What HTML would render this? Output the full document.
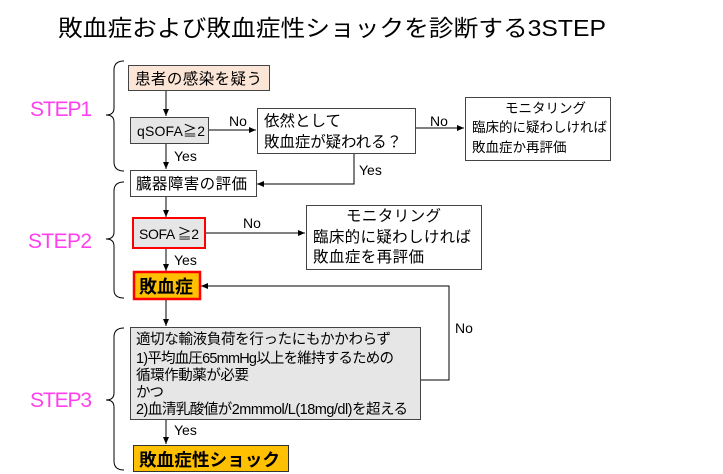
<!DOCTYPE html>
<html><head><meta charset="utf-8"><style>
html,body{margin:0;padding:0;background:#fff;}
svg{display:block;font-family:"Liberation Sans","Noto Sans CJK JP",sans-serif;}
</style></head><body>
<svg width="723" height="474" viewBox="0 0 723 474" xmlns="http://www.w3.org/2000/svg">
<defs><marker id="a" markerWidth="8" markerHeight="8" refX="7" refY="4" orient="auto" markerUnits="userSpaceOnUse"><path d="M0,1 L7,4 L0,7 z" fill="#000"/></marker></defs>
<text x="58" y="36" font-size="23" textLength="548" lengthAdjust="spacingAndGlyphs" fill="#000">敗血症および敗血症性ショックを診断する3STEP</text>
<g fill="#ff40ee" font-size="21">
<text x="30" y="116" textLength="62">STEP1</text>
<text x="28" y="248" textLength="64">STEP2</text>
<text x="30" y="407" textLength="62">STEP3</text>
</g>
<g fill="none" stroke="#000" stroke-width="1">
<path d="M124,61 Q114,61 114,70 L114,108 Q114,115 106,115 Q114,115 114,122 L114,162 Q114,171 124,171"/>
<path d="M124,182 Q114,182 114,191 L114,232 Q114,239 106,239 Q114,239 114,246 L114,290 Q114,298 124,298"/>
<path d="M124,328 Q114,328 114,337 L114,393 Q114,400 106,400 Q114,400 114,407 L114,461 Q114,470 124,470"/>
</g>
<g stroke="#444" stroke-width="1">
<rect x="128.5" y="65.5" width="141" height="25" fill="#fbe5d6"/>
<rect x="130.5" y="117.5" width="78" height="26" fill="#e7e6e6"/>
<rect x="257.5" y="108.5" width="158" height="45" fill="#fff"/>
<rect x="465.5" y="97.5" width="145" height="63" fill="#fff"/>
<rect x="130.5" y="170.5" width="126" height="26" fill="#fff"/>
<rect x="306.5" y="205.5" width="175" height="64" fill="#fff"/>
<rect x="130.5" y="327.5" width="290" height="92" fill="#e7e6e6"/>
</g>
<rect x="133" y="218" width="72" height="30" fill="#e7e6e6" stroke="#ff0000" stroke-width="2"/>
<rect x="134" y="272" width="66" height="27" fill="#ffc000" stroke="#ff0000" stroke-width="2.5"/>
<rect x="133.5" y="445.5" width="155" height="26" fill="#ffc000" stroke="#333" stroke-width="1"/>
<g stroke="#000" stroke-width="1" fill="none" marker-end="url(#a)">
<line x1="166" y1="91" x2="166" y2="116"/>
<line x1="166" y1="144" x2="166" y2="169"/>
<line x1="209" y1="130" x2="256" y2="130"/>
<polyline points="354,154 354,184 257,184"/>
<line x1="416" y1="128" x2="464" y2="128"/>
<line x1="166" y1="197" x2="166" y2="217"/>
<line x1="206" y1="233" x2="305" y2="233"/>
<line x1="166" y1="249" x2="166" y2="271"/>
<line x1="166" y1="300" x2="166" y2="326"/>
<polyline points="421,380 449,380 449,286 201,286"/>
<line x1="166" y1="420" x2="166" y2="444"/>
</g>
<g font-size="14" fill="#000">
<text x="229" y="126">No</text>
<text x="430" y="126">No</text>
<text x="243" y="228">No</text>
<text x="174" y="161">Yes</text>
<text x="359" y="175">Yes</text>
<text x="174" y="265">Yes</text>
<text x="174" y="435">Yes</text>
<text x="455" y="333">No</text>
</g>
<g font-size="15.5" fill="#000" lengthAdjust="spacingAndGlyphs">
<text x="135" y="84" textLength="127">患者の感染を疑う</text>
<text x="137" y="136" font-size="14" textLength="68">qSOFA≧2</text>
<text x="264" y="126" textLength="77">依然として</text>
<text x="264" y="147" textLength="138">敗血症が疑われる？</text>
<text x="346" y="221" textLength="95">モニタリング</text>
<text x="313" y="242" textLength="158">臨床的に疑わしければ</text>
<text x="313" y="262" textLength="111">敗血症を再評価</text>
<text x="136" y="189" textLength="111">臓器障害の評価</text>
<text x="139" y="239" font-size="14" textLength="60">SOFA ≧2</text>
</g>
<g font-size="13.5" fill="#000">
<text x="505" y="113">モニタリング</text>
<text x="472" y="132">臨床的に疑わしければ</text>
<text x="472" y="152">敗血症か再評価</text>
</g>
<text x="139" y="293" font-size="18" font-weight="bold" textLength="54" lengthAdjust="spacingAndGlyphs">敗血症</text>
<text x="139" y="466" font-size="17.5" font-weight="bold" textLength="141" lengthAdjust="spacingAndGlyphs">敗血症性ショック</text>
<g font-size="14.5" fill="#000" lengthAdjust="spacingAndGlyphs">
<text x="136" y="344" textLength="255">適切な輸液負荷を行ったにもかかわらず</text>
<text x="136" y="363" textLength="258">1)平均血圧65mmHg以上を維持するための</text>
<text x="136" y="380" textLength="113">循環作動薬が必要</text>
<text x="136" y="397" textLength="28">かつ</text>
<text x="136" y="414" textLength="272">2)血清乳酸値が2mmmol/L(18mg/dl)を超える</text>
</g>
</svg>
</body></html>
